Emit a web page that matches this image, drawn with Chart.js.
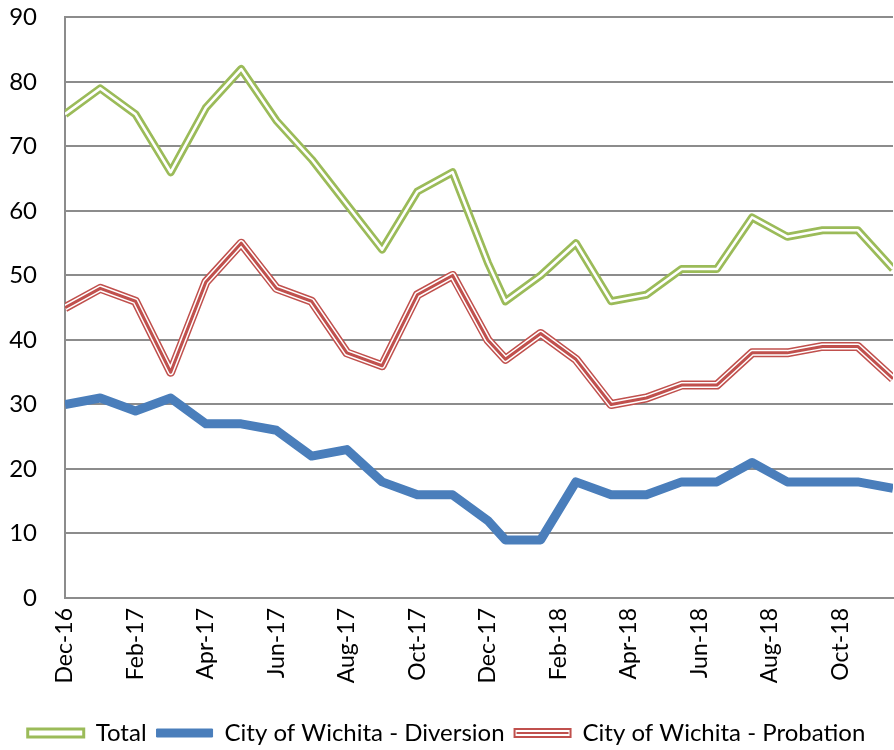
<!DOCTYPE html>
<html>
<head>
<meta charset="utf-8">
<script src="https://cdn.jsdelivr.net/npm/chart.js@4.4.1/dist/chart.umd.min.js"></script>
<style>
    html, body { margin: 0; padding: 0; background: #fff; }
    #wrap { width: 894px; height: 750px; }
</style>
</head>
<body>
<div id="wrap"><canvas id="trendChart" width="894" height="750"></canvas></div>
<script>
// position of each point, in months after Dec-16 (the later points are mid-month)
const monthPos = [0, 1, 2, 3, 4, 5, 6, 7, 8, 9, 10, 11, 12,
    12.5, 13.5, 14.5, 15.5, 16.5, 17.5, 18.5, 19.5, 20.5, 21.5, 22.5, 23.5];

const totalValues = [75, 79, 75, 66, 76, 82, 74, 68, 61, 54, 63, 66, 52,
    46, 50, 55, 46, 47, 51, 51, 59, 56, 57, 57, 51];
const diversionValues = [30, 31, 29, 31, 27, 27, 26, 22, 23, 18, 16, 16, 12,
    9, 9, 18, 16, 16, 18, 18, 21, 18, 18, 18, 17];
const probationValues = [45, 48, 46, 35, 49, 55, 48, 46, 38, 36, 47, 50, 40,
    37, 41, 37, 30, 31, 33, 33, 38, 38, 39, 39, 34];

// tick labels every second month
const tickMonths = [0, 2, 4, 6, 8, 10, 12, 14, 16, 18, 20, 22];
const tickLabels = ['Dec-16', 'Feb-17', 'Apr-17', 'Jun-17', 'Aug-17', 'Oct-17',
    'Dec-17', 'Feb-18', 'Apr-18', 'Jun-18', 'Aug-18', 'Oct-18'];

const seriesNames = ['Total', 'City of Wichita - Diversion', 'City of Wichita - Probation'];

const GREEN = '#9BBB59';
const BLUE = '#4A7EBB';
const RED = '#C0504D';
const GRID = '#8C8C8C';
const FONT = 'Lato';

const pts = (vals) => vals.map((v, i) => ({ x: monthPos[i], y: v }));

const line = (label, vals, color, width, order) => ({
    label: label,
    data: pts(vals),
    borderColor: color,
    backgroundColor: color,
    borderWidth: width,
    borderJoinStyle: 'round',
    borderCapStyle: 'butt',
    pointRadius: 0,
    pointHoverRadius: 0,
    fill: false,
    tension: 0,
    order: order
});

const datasets = [
    line(seriesNames[0], totalValues, GREEN, 8, 6),
    line('_totalInner', totalValues, '#ffffff', 2.6, 5),
    line(seriesNames[1], diversionValues, BLUE, 9, 4),
    line(seriesNames[2], probationValues, RED, 9, 3),
    line('_probInner', probationValues, '#ffffff', 6, 2),
    line('_probCore', probationValues, RED, 3, 1)
];

// red centre stripe inside the probation legend sample
const legendStripe = {
    id: 'legendStripe',
    afterDraw(chart) {
        const lg = chart.legend;
        if (!lg || !lg.legendHitBoxes) return;
        const box = lg.legendHitBoxes[2];
        const opts = lg.options.labels;
        const ctx = chart.ctx;
        const cy = box.top + box.height / 2;
        ctx.save();
        ctx.strokeStyle = RED;
        ctx.lineWidth = 2;
        ctx.beginPath();
        ctx.moveTo(box.left + 2, cy);
        ctx.lineTo(box.left + opts.boxWidth - 2, cy);
        ctx.stroke();
        ctx.restore();
    }
};

new Chart(document.getElementById('trendChart'), {
    type: 'line',
    data: { datasets: datasets },
    plugins: [legendStripe],
    options: {
        responsive: false,
        animation: false,
        events: [],
        layout: { padding: { top: 0, right: 1, left: 0, bottom: -5 } },
        plugins: {
            tooltip: { enabled: false },
            legend: {
                position: 'bottom',
                labels: {
                    color: '#000',
                    font: { family: FONT, size: 24 },
                    boxWidth: 56,
                    boxHeight: 8,
                    padding: 10,
                    generateLabels: () => [
                        { text: seriesNames[0], fillStyle: '#fff', strokeStyle: GREEN, lineWidth: 3, datasetIndex: 0 },
                        { text: seriesNames[1], fillStyle: BLUE, strokeStyle: BLUE, lineWidth: 1, datasetIndex: 2 },
                        { text: seriesNames[2], fillStyle: '#fff', strokeStyle: RED, lineWidth: 2, datasetIndex: 3 }
                    ]
                }
            }
        },
        scales: {
            x: {
                type: 'linear',
                min: 0,
                max: monthPos[monthPos.length - 1],
                afterBuildTicks: (scale) => {
                    scale.ticks = tickMonths.map(v => ({ value: v }));
                },
                afterFit: (scale) => { scale.height = 113; },
                grid: { display: false, drawTicks: false },
                border: { display: true, color: GRID, width: 2 },
                ticks: {
                    color: '#000',
                    font: { family: FONT, size: 23 },
                    minRotation: 90,
                    maxRotation: 90,
                    padding: 10,
                    autoSkip: false,
                    callback: (value) => {
                        const k = tickMonths.indexOf(value);
                        return k >= 0 ? tickLabels[k] : '';
                    }
                }
            },
            y: {
                min: 0,
                max: 90,
                afterFit: (scale) => { scale.width = 65; },
                grid: {
                    color: GRID,
                    lineWidth: 2,
                    drawTicks: true,
                    tickLength: 25,
                    tickColor: 'rgba(0,0,0,0)'
                },
                border: { display: true, color: GRID, width: 2 },
                ticks: {
                    stepSize: 10,
                    color: '#000',
                    font: { family: FONT, size: 24 },
                    padding: 3
                }
            }
        }
    }
});
</script>
</body>
</html>
